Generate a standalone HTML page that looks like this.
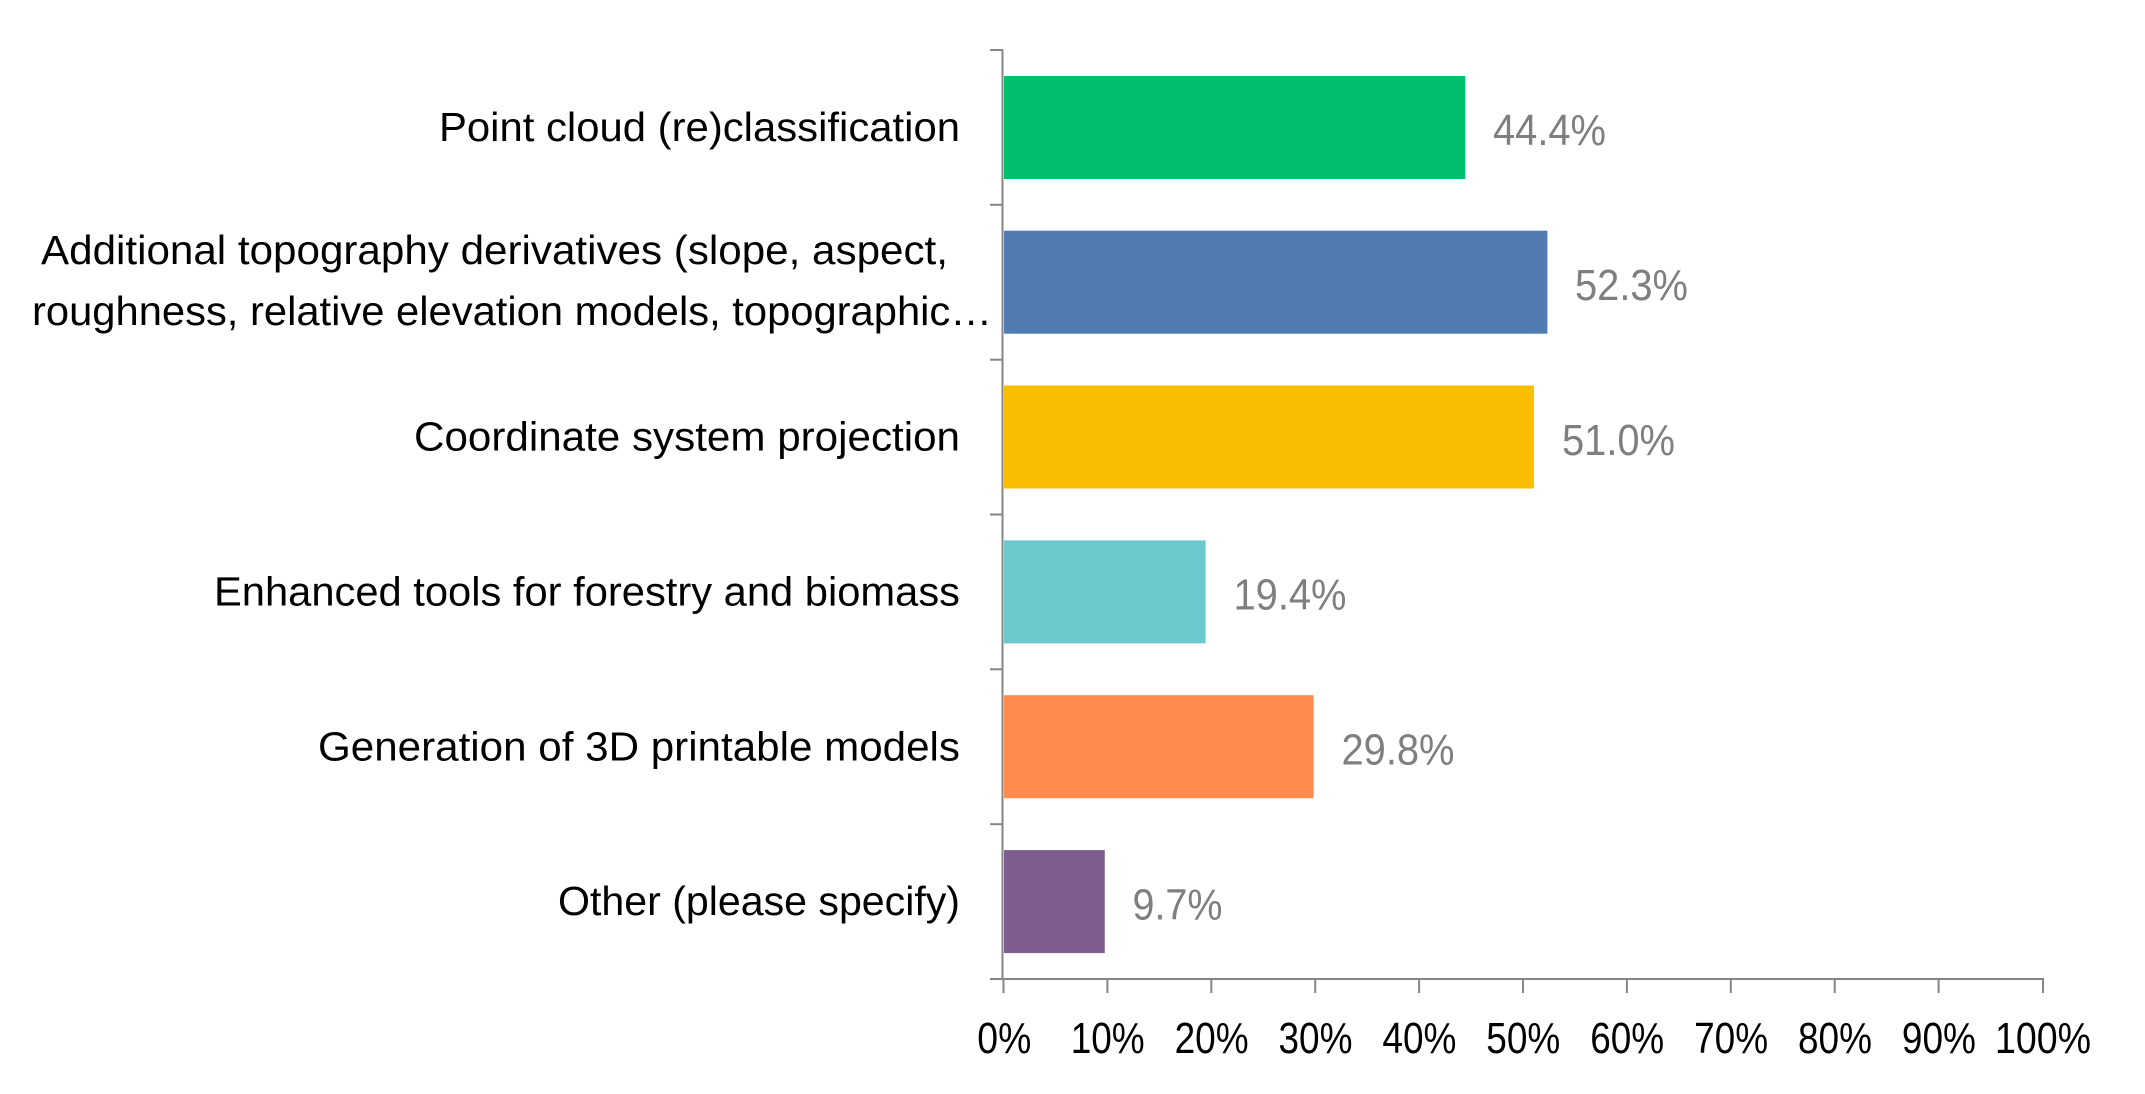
<!DOCTYPE html>
<html>
<head>
<meta charset="utf-8">
<style>
  html, body { margin: 0; padding: 0; background: #ffffff; }
  body { width: 2145px; height: 1094px; overflow: hidden; }
  svg { display: block; }
  text { font-family: "Liberation Sans", "DejaVu Sans", sans-serif; }
  .cat { font-size: 41px; fill: #000000; }
  .val { font-size: 44px; fill: #7f7f7f; }
  .tick { font-size: 44px; fill: #000000; }
</style>
</head>
<body>
<svg width="2145" height="1094" viewBox="0 0 2145 1094" xmlns="http://www.w3.org/2000/svg">
  <rect x="0" y="0" width="2145" height="1094" fill="#ffffff"/>

  <!-- Bars -->
  <rect x="1004" y="76" width="461.3" height="103" fill="#00BF6F"/>
  <rect x="1004" y="230.7" width="543.4" height="103" fill="#507CB3"/>
  <rect x="1004" y="385.5" width="529.9" height="103" fill="#F9BE00"/>
  <rect x="1004" y="540.4" width="201.6" height="103" fill="#6BC8CD"/>
  <rect x="1004" y="695.2" width="309.6" height="103" fill="#FF8B4F"/>
  <rect x="1004" y="850.1" width="100.8" height="103" fill="#7D5E8F"/>

  <!-- Axes -->
  <g stroke="#868686" stroke-width="2" fill="none">
    <line x1="1002.5" y1="50" x2="1002.5" y2="980"/>
    <line x1="990" y1="979" x2="2044" y2="979"/>
    <!-- category ticks -->
    <line x1="990" y1="50" x2="1003" y2="50"/>
    <line x1="990" y1="204.8" x2="1003" y2="204.8"/>
    <line x1="990" y1="359.7" x2="1003" y2="359.7"/>
    <line x1="990" y1="514.5" x2="1003" y2="514.5"/>
    <line x1="990" y1="669.3" x2="1003" y2="669.3"/>
    <line x1="990" y1="824.2" x2="1003" y2="824.2"/>
    <!-- value ticks -->
    <line x1="1003.5" y1="978" x2="1003.5" y2="993"/>
    <line x1="1107.4" y1="978" x2="1107.4" y2="993"/>
    <line x1="1211.3" y1="978" x2="1211.3" y2="993"/>
    <line x1="1315.2" y1="978" x2="1315.2" y2="993"/>
    <line x1="1419.1" y1="978" x2="1419.1" y2="993"/>
    <line x1="1523.0" y1="978" x2="1523.0" y2="993"/>
    <line x1="1626.9" y1="978" x2="1626.9" y2="993"/>
    <line x1="1730.8" y1="978" x2="1730.8" y2="993"/>
    <line x1="1834.7" y1="978" x2="1834.7" y2="993"/>
    <line x1="1938.6" y1="978" x2="1938.6" y2="993"/>
    <line x1="2043" y1="978" x2="2043" y2="993"/>
  </g>

  <!-- Category labels -->
  <text class="cat" x="439" y="141" textLength="521" lengthAdjust="spacingAndGlyphs">Point cloud (re)classification</text>
  <text class="cat" x="41" y="264" textLength="907" lengthAdjust="spacingAndGlyphs">Additional topography derivatives (slope, aspect,</text>
  <text class="cat" x="32" y="325" textLength="960" lengthAdjust="spacingAndGlyphs">roughness, relative elevation models, topographic…</text>
  <text class="cat" x="414" y="450.6" textLength="546" lengthAdjust="spacingAndGlyphs">Coordinate system projection</text>
  <text class="cat" x="214" y="605.5" textLength="746" lengthAdjust="spacingAndGlyphs">Enhanced tools for forestry and biomass</text>
  <text class="cat" x="318" y="760.3" textLength="642" lengthAdjust="spacingAndGlyphs">Generation of 3D printable models</text>
  <text class="cat" x="558" y="915.2" textLength="402" lengthAdjust="spacingAndGlyphs">Other (please specify)</text>

  <!-- Value labels -->
  <text class="val" x="1493" y="145" textLength="113" lengthAdjust="spacingAndGlyphs">44.4%</text>
  <text class="val" x="1575" y="300" textLength="113" lengthAdjust="spacingAndGlyphs">52.3%</text>
  <text class="val" x="1562" y="454.8" textLength="113" lengthAdjust="spacingAndGlyphs">51.0%</text>
  <text class="val" x="1233.5" y="609.7" textLength="113" lengthAdjust="spacingAndGlyphs">19.4%</text>
  <text class="val" x="1341.5" y="764.5" textLength="113" lengthAdjust="spacingAndGlyphs">29.8%</text>
  <text class="val" x="1132.5" y="919.4" textLength="90" lengthAdjust="spacingAndGlyphs">9.7%</text>

  <!-- Tick labels -->
  <text class="tick" x="977.3" y="1053" textLength="54" lengthAdjust="spacingAndGlyphs">0%</text>
  <text class="tick" x="1070.7" y="1053" textLength="74" lengthAdjust="spacingAndGlyphs">10%</text>
  <text class="tick" x="1174.6" y="1053" textLength="74" lengthAdjust="spacingAndGlyphs">20%</text>
  <text class="tick" x="1278.5" y="1053" textLength="74" lengthAdjust="spacingAndGlyphs">30%</text>
  <text class="tick" x="1382.4" y="1053" textLength="74" lengthAdjust="spacingAndGlyphs">40%</text>
  <text class="tick" x="1486.3" y="1053" textLength="74" lengthAdjust="spacingAndGlyphs">50%</text>
  <text class="tick" x="1590.2" y="1053" textLength="74" lengthAdjust="spacingAndGlyphs">60%</text>
  <text class="tick" x="1694.1" y="1053" textLength="74" lengthAdjust="spacingAndGlyphs">70%</text>
  <text class="tick" x="1798.0" y="1053" textLength="74" lengthAdjust="spacingAndGlyphs">80%</text>
  <text class="tick" x="1901.9" y="1053" textLength="74" lengthAdjust="spacingAndGlyphs">90%</text>
  <text class="tick" x="1995" y="1053" textLength="96" lengthAdjust="spacingAndGlyphs">100%</text>
</svg>
</body>
</html>
